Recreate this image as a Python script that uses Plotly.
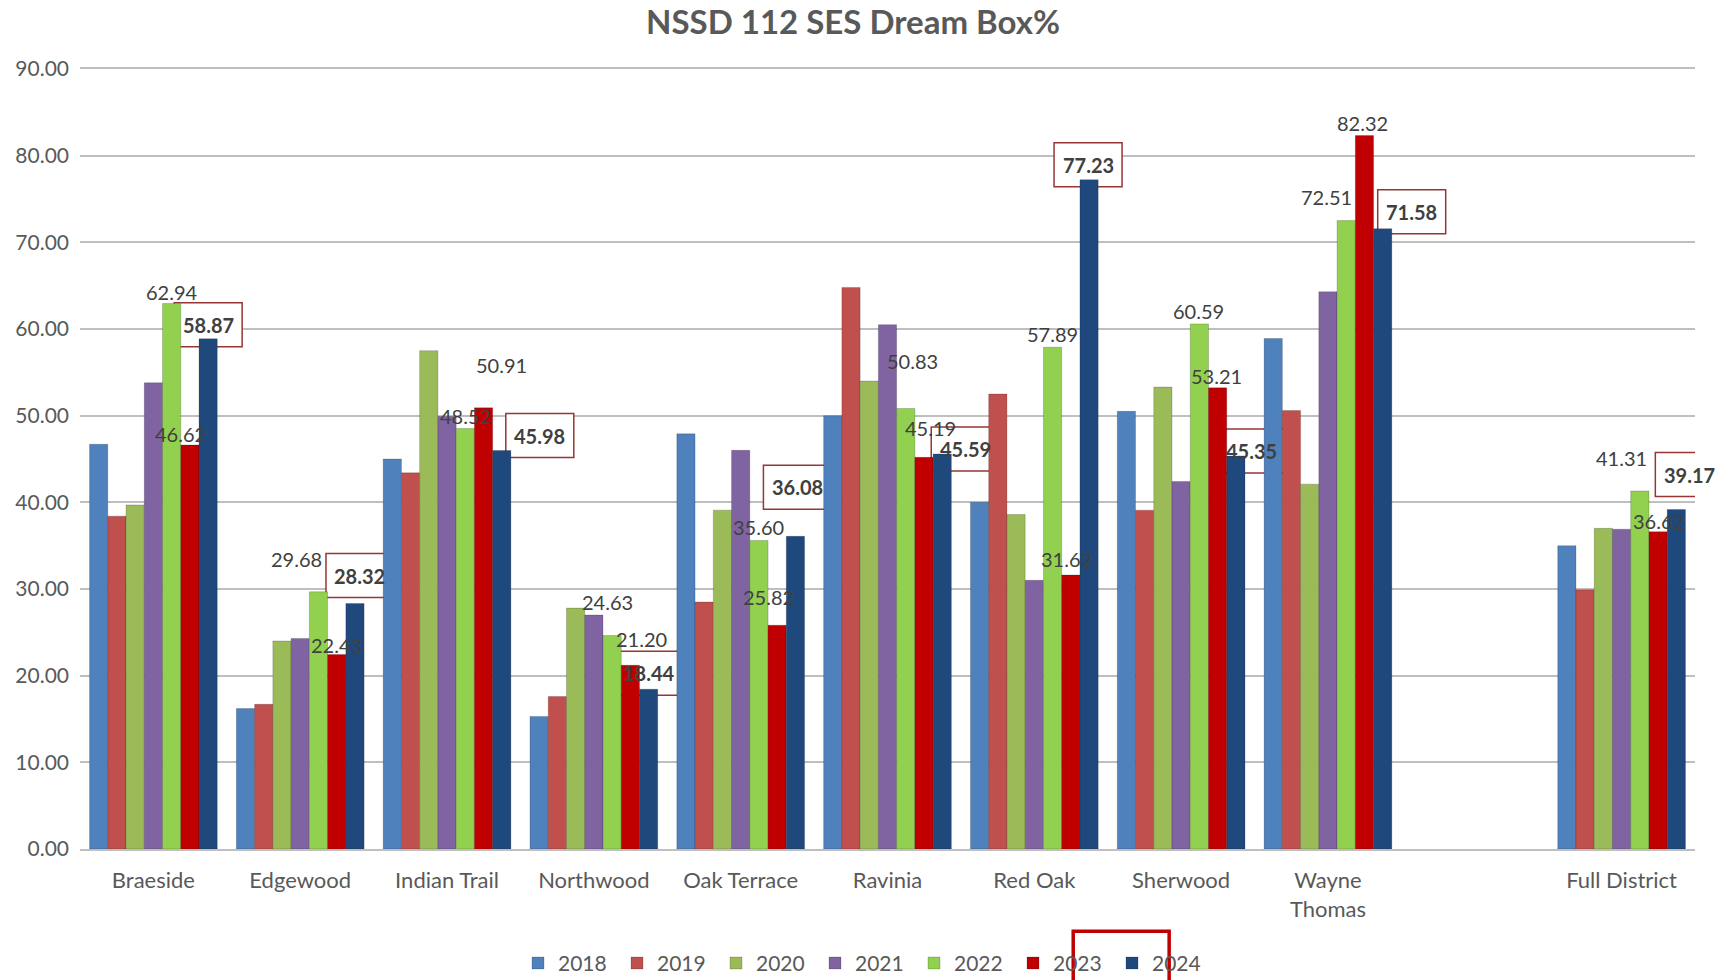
import plotly.graph_objects as go

# ---------------- data ----------------
SCHOOLS = ["Braeside", "Edgewood", "Indian Trail", "Northwood", "Oak Terrace",
           "Ravinia", "Red Oak", "Sherwood", "Wayne<br>Thomas", "Full District"]
YEARS = ["2018", "2019", "2020", "2021", "2022", "2023", "2024"]

V2018 = [46.7, 16.2, 45.0, 15.3, 47.9, 50.0, 40.0, 50.5, 58.9, 35.0]
V2019 = [38.4, 16.7, 43.4, 17.6, 28.5, 64.8, 52.5, 39.1, 50.6, 29.9]
V2020 = [39.7, 24.0, 57.5, 27.8, 39.1, 54.0, 38.6, 53.3, 42.1, 37.0]
V2021 = [53.8, 24.3, 49.9, 27.0, 46.0, 60.5, 31.0, 42.4, 64.3, 36.9]
V2022 = [62.94, 29.68, 48.52, 24.63, 35.60, 50.83, 57.89, 60.59, 72.51, 41.31]
V2023 = [46.62, 22.43, 50.91, 21.20, 25.82, 45.19, 31.62, 53.21, 82.32, 36.62]
V2024 = [58.87, 28.32, 45.98, 18.44, 36.08, 45.59, 77.23, 45.35, 71.58, 39.17]
SERIES = [V2018, V2019, V2020, V2021, V2022, V2023, V2024]

# ---------------- styles ----------------
COLORS = ["#4F81BD", "#C0504D", "#9BBB59", "#8064A2", "#92D050", "#C00000", "#1F497D"]
FONT = "Lato"
GRAY = "#595959"
GRID = "#BFBFBF"
LABEL_COLOR = "#404040"
BOX_COLOR = "#953735"
BARGAP = 0.13

# label pixel offsets (dx right, dy up from bar top)
L22_DX = [0, -22, 0, -5, 0, 7, 0, -1, -20, -18]
L22_DY = [12, 33, 12, 34, 13, 47, 13, 13, 24, 33]
L23_DX = [-9, 0, 18, 11, -9, 7, -4, -1, -2, 0]
L23_DY = [11, 10, 43, 26, 28, 29, 16, 12, 13, 11]
BOX_DX = [0, 5, 38, 0, 2, 23, -1, 16, 29, 13]
BOX_DY = [14, 28, 15, 16, 49, 5, 15, 5, 17, 35]

# category positions: one empty slot before the last category
POS = list(range(len(SCHOOLS) - 1)) + [len(SCHOOLS)]
NSER = len(YEARS)
BW = (1 - BARGAP) / NSER

fig = go.Figure()
for year, vals, col in zip(YEARS, SERIES, COLORS):
    fig.add_trace(go.Bar(
        x=POS, y=vals, name=year,
        marker=dict(color=col, line=dict(width=1, color="rgba(0,0,0,0.18)")),
        hoverinfo="x+y+name",
    ))


def bar_x(i, j):
    return POS[i] + (j - (NSER - 1) / 2) * BW


shapes = []
annotations = []


def add_label(i, j, val, dx, dy, boxed):
    x = bar_x(i, j)
    if boxed:
        w, h = 68, 44
        shapes.append(dict(
            type="rect", xref="x", yref="y",
            xsizemode="pixel", ysizemode="pixel",
            xanchor=x, yanchor=val,
            x0=dx - w / 2, x1=dx + w / 2, y0=dy - h / 2, y1=dy + h / 2,
            layer="between", fillcolor="white",
            line=dict(color=BOX_COLOR, width=1.5),
        ))
    annotations.append(dict(
        x=x, y=val, xref="x", yref="y", xshift=dx, yshift=dy,
        xanchor="center", yanchor="middle", showarrow=False,
        text=f"<b>{val:.2f}</b>" if boxed else f"{val:.2f}",
        font=dict(family=FONT, size=20, color=LABEL_COLOR),
    ))


for i in range(len(SCHOOLS)):
    add_label(i, 4, V2022[i], L22_DX[i], L22_DY[i], False)
    add_label(i, 5, V2023[i], L23_DX[i], L23_DY[i], False)
    add_label(i, 6, V2024[i], BOX_DX[i], BOX_DY[i], True)

# red highlight rectangle around the 2023 legend entry
shapes.append(dict(type="rect", xref="paper", yref="paper",
                   x0=0.615, x1=0.6744, y0=-0.1056, y1=-0.18,
                   line=dict(color="#C00000", width=3.5), layer="above"))

fig.update_layout(
    width=1729, height=980,
    margin=dict(l=80, r=34, t=69, b=131),
    paper_bgcolor="white", plot_bgcolor="white",
    font=dict(family=FONT, size=20, color=GRAY),
    barmode="group", bargap=BARGAP, bargroupgap=0,
    title=dict(text="<b>NSSD 112 SES Dream Box%</b>", xref="container", x=0.4934,
               yref="container", y=0.9776, xanchor="center", yanchor="middle",
               font=dict(family=FONT, size=33, color=GRAY)),
    xaxis=dict(tickmode="array", tickvals=POS, ticktext=SCHOOLS,
               range=[-0.5, len(SCHOOLS) + 0.5], showgrid=False, zeroline=False,
               showline=True, mirror=True, linecolor=GRID, linewidth=2,
               ticks="", ticklabelstandoff=11,
               tickfont=dict(family=FONT, size=22, color=GRAY)),
    yaxis=dict(range=[0, 90], dtick=10, tickformat=".2f", showgrid=True,
               gridcolor=GRID, gridwidth=2, zeroline=False, showline=False,
               ticks="", ticklabelstandoff=10,
               tickfont=dict(family=FONT, size=21, color=GRAY)),
    legend=dict(orientation="h", xref="container", yref="container",
                x=0.5, y=0.017, xanchor="center", yanchor="middle",
                bgcolor="rgba(0,0,0,0)",
                font=dict(family=FONT, size=21, color=GRAY),
                entrywidth=54, entrywidthmode="pixels", traceorder="normal"),
    shapes=shapes,
    annotations=annotations,
    showlegend=True,
)

fig.write_html("out.html", config={"displayModeBar": False},
               post_script="document.body.style.margin='0px';")
